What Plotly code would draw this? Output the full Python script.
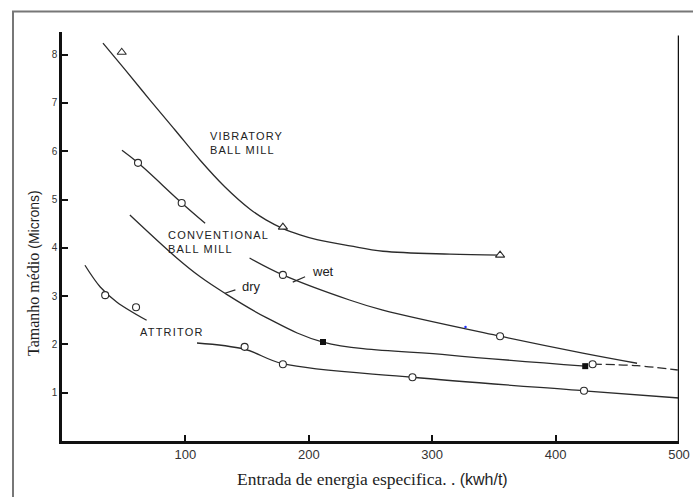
import plotly.graph_objects as go

# ---------------- data ----------------
# Vibratory ball mill
vib_line_x = [33.2, 51.1, 71.3, 91.6, 111.8, 132.1, 152.4, 165.3, 179.1, 192.9, 206.6, 233.4, 260.1, 314.4, 354.9]
vib_line_y = [8.24, 7.69, 7.06, 6.44, 5.82, 5.26, 4.80, 4.58, 4.40, 4.27, 4.17, 4.04, 3.93, 3.87, 3.85]
vib_pts_x = [48.4, 179, 355]
vib_pts_y = [8.05, 4.43, 3.85]

# Conventional ball mill - wet
wet1_x = [48.6, 61.6, 97, 116]
wet1_y = [6.02, 5.76, 4.93, 4.51]
wet2_x = [152, 179, 233, 260, 355, 422, 466]
wet2_y = [3.79, 3.44, 2.92, 2.71, 2.17, 1.82, 1.61]
wet_dash_x = [430, 466, 499]
wet_dash_y = [1.59, 1.56, 1.47]
wet_pts_x = [61.6, 97, 179, 355, 430]
wet_pts_y = [5.76, 4.93, 3.44, 2.17, 1.59]

# Conventional ball mill - dry
dry_x = [55, 93, 112, 132, 166, 211.5, 314, 424]
dry_y = [4.68, 3.79, 3.4, 3.06, 2.55, 2.05, 1.78, 1.55]
dry_pts_x = [211.5, 424]
dry_pts_y = [2.05, 1.55]

# Attritor
att1_x = [18.6, 31, 44.3, 68.6]
att1_y = [3.64, 3.19, 2.88, 2.5]
att2_x = [109.4, 148, 179, 284, 423, 500]
att2_y = [2.03, 1.9, 1.6, 1.32, 1.04, 0.89]
att_pts_x = [35, 60, 148, 179, 284, 423]
att_pts_y = [3.02, 2.77, 1.95, 1.59, 1.32, 1.04]

# stray dot
dot_x = [327]
dot_y = [2.36]

x_ticks = [100, 200, 300, 400, 500]
y_ticks = [1, 2, 3, 4, 5, 6, 7, 8]

LINE = "#2b2b2b"
SANS = "Liberation Sans, Arial, sans-serif"
SERIF = "Liberation Serif, Times New Roman, serif"

fig = go.Figure()


def curve(x, y, dash="solid"):
    fig.add_trace(go.Scatter(x=x, y=y, mode="lines",
                             line=dict(color=LINE, width=1.3, shape="spline", smoothing=1.0, dash=dash),
                             hoverinfo="skip", showlegend=False))


def pts(x, y, symbol, size=7):
    fig.add_trace(go.Scatter(x=x, y=y, mode="markers",
                             marker=dict(symbol=symbol, size=size, color="white",
                                         line=dict(color=LINE, width=1.1)),
                             hoverinfo="skip", showlegend=False))


curve(vib_line_x, vib_line_y)
curve(wet1_x, wet1_y)
curve(wet2_x, wet2_y)
curve(wet_dash_x, wet_dash_y, dash="9px,4px")
curve(dry_x, dry_y)
curve(att1_x, att1_y)
curve(att2_x, att2_y)

pts(vib_pts_x, vib_pts_y, "triangle-up", size=8)
pts(wet_pts_x, wet_pts_y, "circle")
pts(att_pts_x, att_pts_y, "circle")
fig.add_trace(go.Scatter(x=dry_pts_x, y=dry_pts_y, mode="markers",
                         marker=dict(symbol="square", size=6, color="#111"),
                         hoverinfo="skip", showlegend=False))
fig.add_trace(go.Scatter(x=dot_x, y=dot_y, mode="markers",
                         marker=dict(symbol="circle", size=2.5, color="#2030ff"),
                         hoverinfo="skip", showlegend=False))

lab_font = dict(family=SANS, size=11, color="#222")


def label(text, x, y):
    fig.add_annotation(x=x, y=y, xref="x", yref="y", text=text, showarrow=False,
                       xanchor="left", yanchor="middle", align="left", font=lab_font)


def sp(t):
    return '<span style="letter-spacing:1.2px">' + t + "</span>"


label(sp("VIBRATORY") + "<br>" + sp("BALL MILL"), 118, 6.18)
label(sp("CONVENTIONAL") + "<br>" + sp("BALL MILL"), 84.3, 4.12)
label(sp("ATTRITOR"), 61.6, 2.26)
fig.add_annotation(x=144, y=3.2, xref="x", yref="y", text="dry", showarrow=False,
                   xanchor="left", yanchor="middle", font=dict(family=SANS, size=13, color="#222"))
fig.add_annotation(x=201, y=3.52, xref="x", yref="y", text="wet", showarrow=False,
                   xanchor="left", yanchor="middle", font=dict(family=SANS, size=13, color="#222"))

shapes = [
    # leaders
    dict(type="line", xref="x", yref="y", x0=132, y0=3.06, x1=140.5, y1=3.13,
         line=dict(color=LINE, width=1.2)),
    dict(type="line", xref="x", yref="y", x0=187, y0=3.29, x1=197, y1=3.40,
         line=dict(color=LINE, width=1.2)),
    # right spine
    dict(type="line", xref="x", yref="y", x0=500, y0=0, x1=500, y1=8.4,
         line=dict(color="#111", width=2.5)),
    # outer frame
    dict(type="rect", xref="paper", yref="paper", x0=-49 / 617, x1=1.1,
         y0=-0.2, y1=1 + 20.5 / 409, line=dict(color="#777", width=2)),
]
fig.update_layout(shapes=shapes)

# axis titles
fig.add_annotation(xref="paper", yref="paper", x=(372 - 62) / 617, y=(441 - 479) / 409,
                   text='Entrada de energia especifica. . <span style="font-family:Liberation Sans,Arial,sans-serif;font-size:16px">(kwh/t)</span>',
                   showarrow=False, xanchor="center", yanchor="middle",
                   font=dict(family=SERIF, size=17.5, color="#1e1e1e"))
fig.add_annotation(xref="paper", yref="paper", x=(33 - 62) / 617, y=(441 - 273) / 409,
                   text='Tamanho médio <span style="font-family:Liberation Sans,Arial,sans-serif;font-size:14px">(Microns)</span>',
                   showarrow=False, textangle=-90, xanchor="center", yanchor="middle",
                   font=dict(family=SERIF, size=16, color="#1e1e1e"))

fig.update_layout(
    width=693, height=497,
    margin=dict(l=62, r=14, t=32, b=56, autoexpand=False),
    paper_bgcolor="white", plot_bgcolor="white",
    xaxis=dict(range=[0, 500], tickvals=x_ticks, ticktext=[str(v) for v in x_ticks],
               automargin=False,
               showgrid=False, zeroline=False, showline=True, linecolor="#111", linewidth=2.5,
               ticks="inside", ticklen=6, tickwidth=1.5, tickcolor="#111",
               tickfont=dict(family=SANS, size=13, color="#333")),
    yaxis=dict(range=[0, 8.47], tickvals=y_ticks, ticktext=[str(v) for v in y_ticks],
               automargin=False,
               showgrid=False, zeroline=False, showline=True, linecolor="#111", linewidth=2.5,
               ticks="inside", ticklen=6, tickwidth=1.5, tickcolor="#111",
               tickfont=dict(family=SANS, size=10, color="#333")),
)

fig.write_html("out.html",
               config={"displayModeBar": False},
               post_script="document.body.style.margin='0';document.body.style.overflow='hidden';")
